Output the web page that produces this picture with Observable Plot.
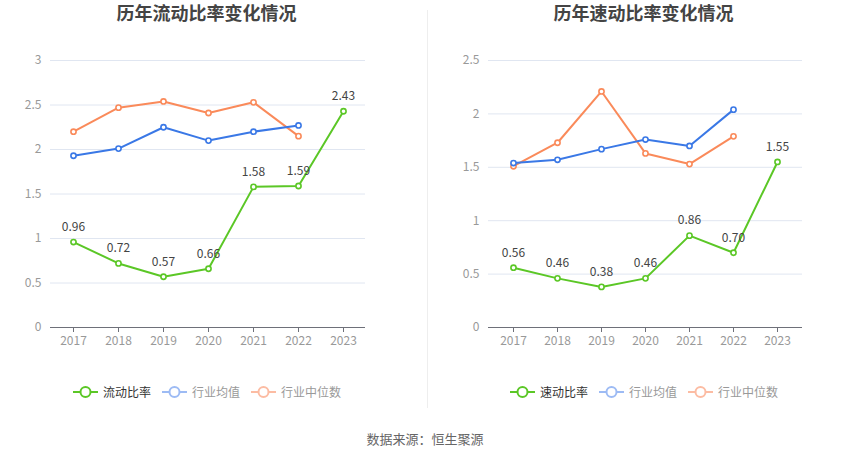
<!DOCTYPE html>
<html>
<head>
<meta charset="utf-8">
<script src="https://cdn.jsdelivr.net/npm/d3@7"></script>
<script src="https://cdn.jsdelivr.net/npm/@observablehq/plot@0.6"></script>
<style>
  html, body { margin: 0; padding: 0; background: #fff; }
  body { width: 850px; height: 459px; position: relative; overflow: hidden; font-family: "Noto Sans CJK SC", "Noto Sans", sans-serif; }
  .title { position: absolute; top: -1px; width: 425px; text-align: center; font-size: 18px; font-weight: bold; color: #444; }
  .chart { position: absolute; top: 0; }
  .sep { position: absolute; left: 427px; top: 10px; width: 1px; height: 398px; background: #eee; }
  .legend { position: absolute; top: 383px; display: flex; align-items: center; font-size: 12px; }
  .legend .item { display: flex; align-items: center; margin-right: 11px; }
  .legend svg { margin-right: 5px; }
  .caption { position: absolute; top: 429px; width: 850px; text-align: center; font-size: 13px; color: #666; }
</style>
</head>
<body>
<div class="title" style="left:-6px">历年流动比率变化情况</div>
<div class="title" style="left:431px">历年速动比率变化情况</div>
<div id="c1" class="chart" style="left:0"></div>
<div id="c2" class="chart" style="left:425px"></div>
<div class="sep"></div>
<div id="l1" class="legend" style="left:73px"></div>
<div id="l2" class="legend" style="left:510px"></div>
<div class="caption">数据来源：恒生聚源</div>
<script>
const years = ["2017","2018","2019","2020","2021","2022","2023"];
const industryYears = ["2017","2018","2019","2020","2021","2022"];

const currentRatio = [0.96, 0.72, 0.57, 0.66, 1.58, 1.59, 2.43];
const currentIndustryAvg = [1.93, 2.01, 2.25, 2.10, 2.20, 2.27];
const currentIndustryMedian = [2.20, 2.47, 2.54, 2.41, 2.53, 2.15];
const currentTicks = [0, 0.5, 1, 1.5, 2, 2.5, 3];

const quickRatio = [0.56, 0.46, 0.38, 0.46, 0.86, 0.70, 1.55];
const quickIndustryAvg = [1.54, 1.57, 1.67, 1.76, 1.70, 2.04];
const quickIndustryMedian = [1.51, 1.73, 2.21, 1.63, 1.53, 1.79];
const quickTicks = [0, 0.5, 1, 1.5, 2, 2.5];

const GREEN = "#5BC726", BLUE = "#3A78E6", ORANGE = "#FA8A5A";

function fmtTick(d) { return String(d); }

function makeChart(main, avg, med, ticks, yMax, mLeft, mRight) {
  const mainData = years.map((y, i) => ({year: y, v: main[i]}));
  const avgData = industryYears.map((y, i) => ({year: y, v: avg[i]}));
  const medData = industryYears.map((y, i) => ({year: y, v: med[i]}));
  return Plot.plot({
    width: 425,
    height: 360,
    marginLeft: mLeft,
    marginRight: mRight,
    marginTop: 60,
    marginBottom: 33,
    style: {fontFamily: "'Noto Sans CJK SC', sans-serif", fontSize: "12px", color: "#999", background: "transparent"},
    x: {type: "point", domain: years, padding: 0.5, label: null},
    y: {domain: [0, yMax], ticks: ticks, label: null},
    marks: [
      Plot.gridY(ticks.filter(t => t > 0), {stroke: "#E0E6F1", strokeOpacity: 1, strokeWidth: 1}),
      Plot.axisY({ticks: ticks, tickSize: 0, tickPadding: 9, tickFormat: fmtTick, fill: "#999", fontSize: 12, label: null}),
      Plot.ruleY([0], {stroke: "#6E7079", strokeWidth: 1}),
      Plot.axisX({tickSize: 5, stroke: "#6E7079", tickPadding: 4, fill: "#999", fontSize: 12, label: null}),
      Plot.line(medData, {x: "year", y: "v", stroke: ORANGE, strokeWidth: 2}),
      Plot.line(avgData, {x: "year", y: "v", stroke: BLUE, strokeWidth: 2}),
      Plot.line(mainData, {x: "year", y: "v", stroke: GREEN, strokeWidth: 2}),
      Plot.dot(medData, {x: "year", y: "v", r: 2.6, fill: "white", stroke: ORANGE, strokeWidth: 1.6}),
      Plot.dot(avgData, {x: "year", y: "v", r: 2.6, fill: "white", stroke: BLUE, strokeWidth: 1.6}),
      Plot.dot(mainData, {x: "year", y: "v", r: 2.6, fill: "white", stroke: GREEN, strokeWidth: 1.6}),
      Plot.text(mainData, {x: "year", y: "v", text: d => d.v.toFixed(2), dy: -15, fill: "#444", fontSize: 12})
    ]
  });
}

document.getElementById("c1").appendChild(makeChart(currentRatio, currentIndustryAvg, currentIndustryMedian, currentTicks, 3, 50, 60));
document.getElementById("c2").appendChild(makeChart(quickRatio, quickIndustryAvg, quickIndustryMedian, quickTicks, 2.5, 63, 48));

function legend(el, names) {
  const items = [
    {name: names[0], color: GREEN, text: "#333"},
    {name: "行业均值", color: "#9DBBF4", text: "#999"},
    {name: "行业中位数", color: "#FCBCA3", text: "#999"}
  ];
  const node = document.getElementById(el);
  for (const it of items) {
    const d = document.createElement("div");
    d.className = "item";
    d.innerHTML = `<svg width="25" height="14"><line x1="0" y1="7" x2="25" y2="7" stroke="${it.color}" stroke-width="2"/><circle cx="12.5" cy="7" r="5" fill="white" stroke="${it.color}" stroke-width="2"/></svg><span style="color:${it.text}">${it.name}</span>`;
    node.appendChild(d);
  }
}
legend("l1", ["流动比率"]);
legend("l2", ["速动比率"]);
</script>
</body>
</html>
